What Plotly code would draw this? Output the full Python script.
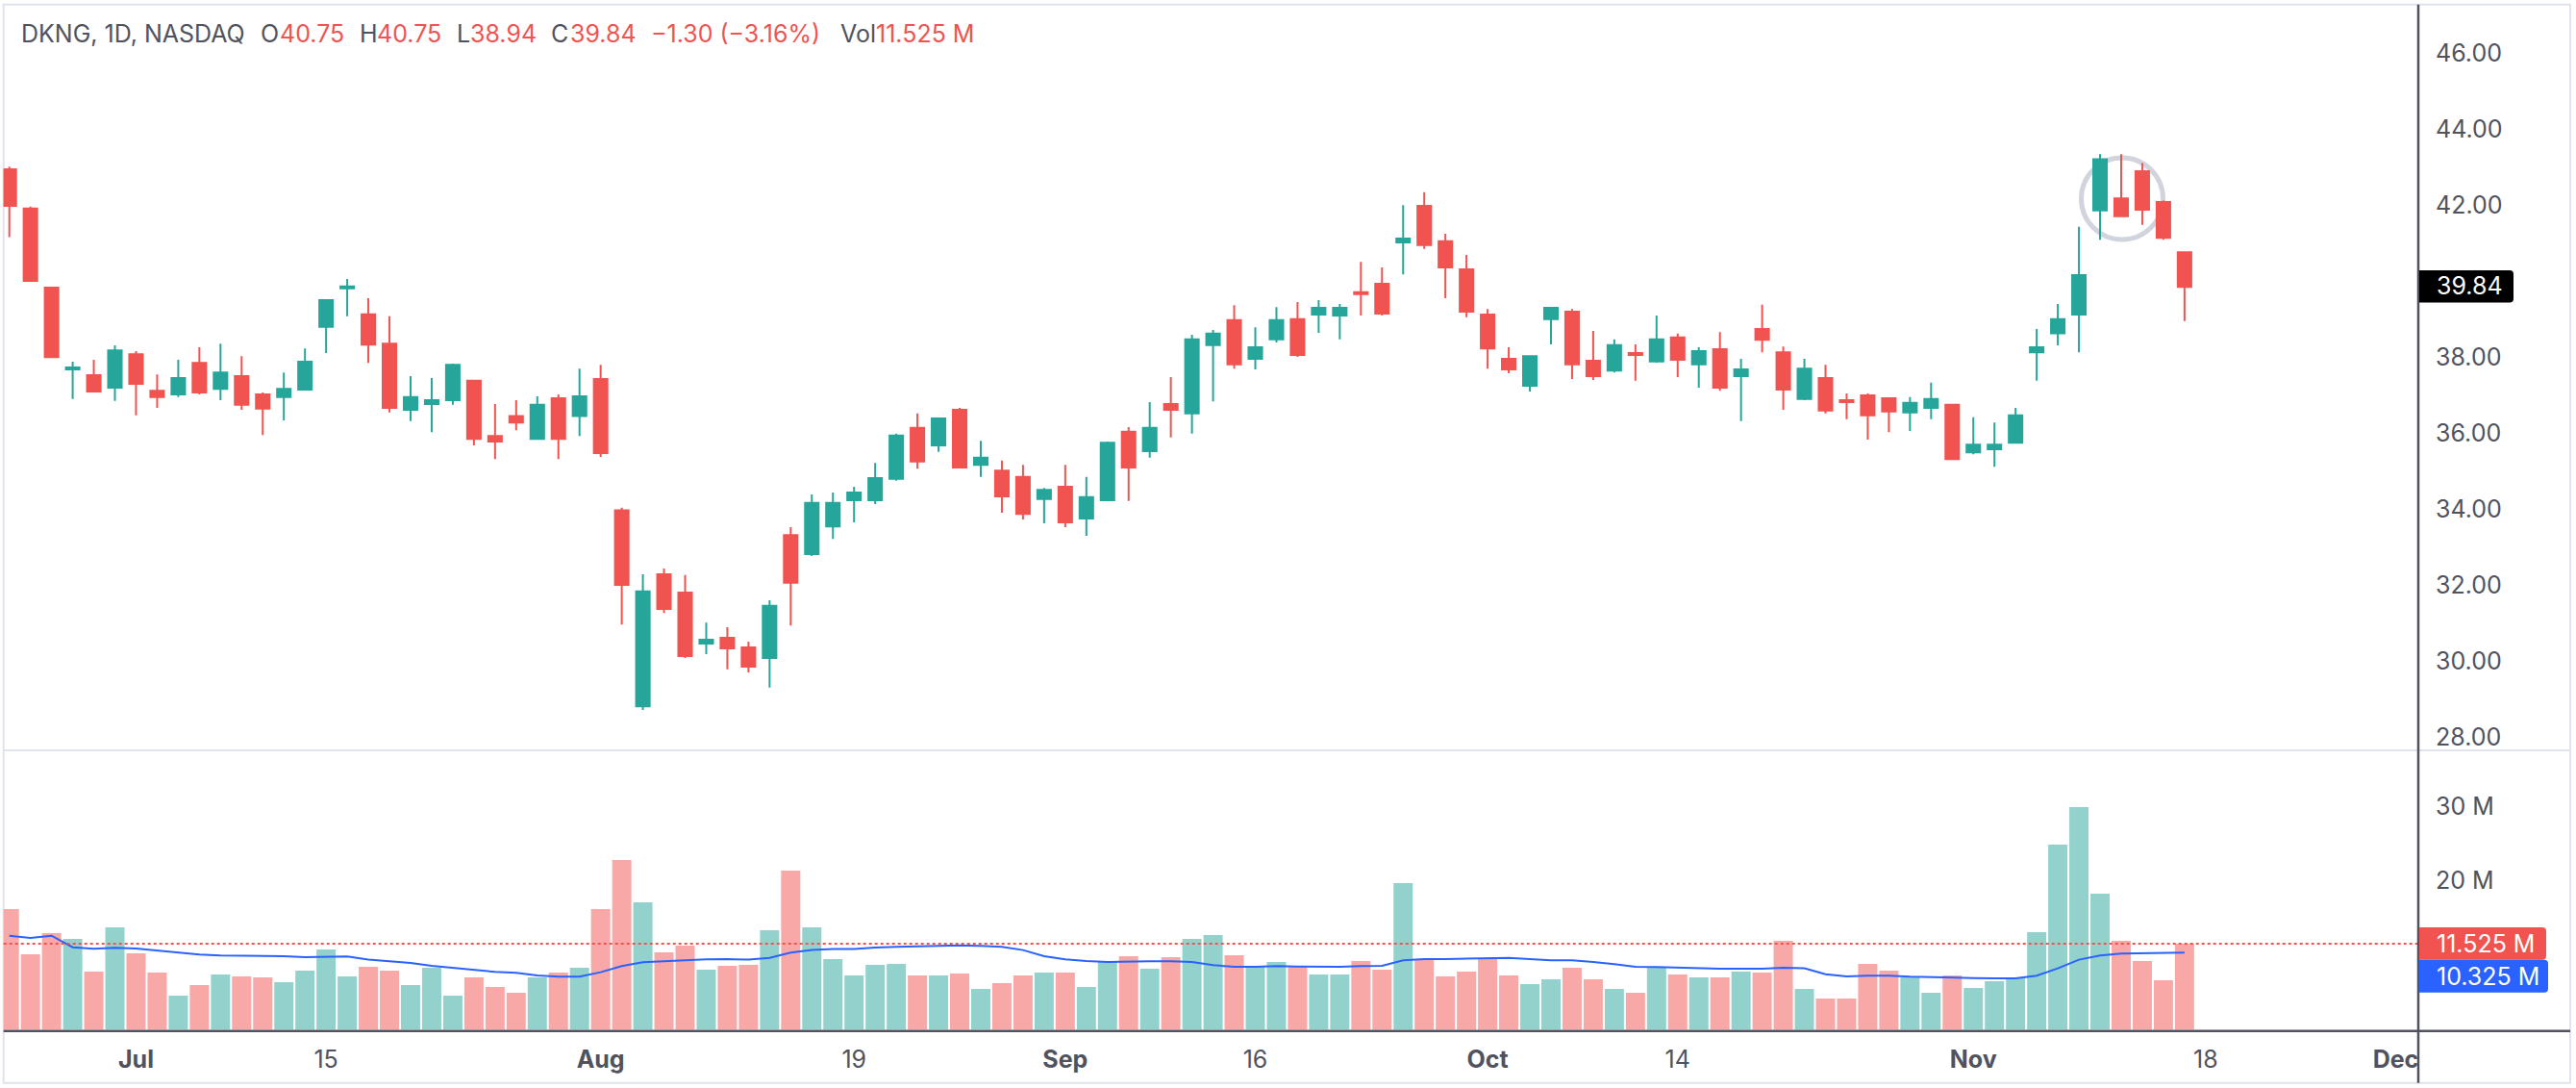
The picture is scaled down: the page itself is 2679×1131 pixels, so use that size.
import plotly.graph_objects as go
import pandas as pd

W = 2679
H = 1131

# trading days, no weekends or market holidays (TradingView squeezes them out)
days = pd.bdate_range("2024-06-21", "2024-12-20")
days = [d.strftime("%Y-%m-%d") for d in days if d.strftime("%Y-%m-%d") not in ("2024-07-04", "2024-09-02", "2024-11-28")]

opens = [42.93, 41.90, 39.82, 37.67, 37.52, 37.19, 38.07, 37.11, 37.01, 37.84, 37.16, 37.49, 37.01, 36.94, 37.14, 38.79,
         39.80, 39.12, 38.35, 36.61, 36.76, 36.86, 37.37, 35.92, 36.44, 35.84, 36.91, 36.44, 37.42, 33.96, 28.81, 32.28,
         31.80, 30.46, 30.61, 30.36, 30.08, 33.31, 32.81, 33.54, 34.23, 34.23, 34.79, 36.13, 35.67, 36.61, 35.16, 35.01,
         34.84, 34.26, 34.58, 33.75, 34.23, 36.03, 35.52, 36.76, 36.51, 38.31, 38.97, 37.95, 38.46, 38.99, 39.11, 39.09,
         39.70, 39.92, 41.01, 41.97, 41.04, 40.30, 39.11, 37.95, 37.24, 38.99, 39.19, 37.90, 37.64, 38.10, 37.88, 38.51,
         37.80, 38.20, 37.49, 38.73, 38.12, 36.89, 37.44, 36.86, 36.99, 36.91, 36.54, 36.66, 36.74, 35.49, 35.57, 35.74,
         38.12, 38.62, 39.11, 41.85, 42.17, 42.88, 42.07, 40.75]
highs = [43.00, 41.95, 39.82, 37.87, 37.92, 38.30, 38.15, 37.54, 37.92, 38.25, 38.35, 38.02, 37.06, 37.59, 38.22, 39.52,
         40.05, 39.54, 39.07, 37.49, 37.44, 37.82, 37.39, 36.76, 36.86, 36.96, 37.01, 37.69, 37.79, 34.03, 32.28, 32.43,
         32.26, 31.01, 30.89, 30.51, 31.60, 33.52, 34.38, 34.43, 34.58, 35.21, 35.98, 36.51, 36.40, 36.66, 35.79, 35.27,
         35.16, 34.55, 35.16, 34.84, 35.77, 36.15, 36.81, 37.47, 38.58, 38.71, 39.36, 38.78, 39.31, 39.44, 39.49, 39.39,
         40.50, 40.35, 41.99, 42.33, 41.24, 40.68, 39.26, 38.25, 38.02, 39.31, 39.26, 38.68, 38.46, 38.33, 39.09, 38.61,
         38.25, 38.65, 37.95, 39.37, 38.27, 37.95, 37.79, 37.04, 37.04, 36.91, 36.94, 37.32, 36.75, 36.41, 36.27, 36.66,
         38.73, 39.39, 41.42, 43.33, 43.33, 43.10, 42.11, 40.75]
lows = [41.15, 40.00, 37.97, 36.89, 37.09, 36.84, 36.46, 36.66, 36.94, 37.01, 36.86, 36.61, 35.94, 36.33, 37.14, 38.10,
        39.07, 37.84, 36.54, 36.31, 36.02, 36.74, 35.67, 35.31, 36.07, 35.84, 35.31, 35.92, 35.37, 30.96, 28.71, 31.26,
        30.08, 30.18, 29.78, 29.70, 29.30, 30.93, 32.76, 33.21, 33.65, 34.13, 34.74, 35.06, 35.50, 35.09, 34.84, 33.90,
        33.72, 33.62, 33.52, 33.29, 34.23, 34.21, 35.35, 35.88, 35.98, 36.83, 37.69, 37.67, 38.38, 38.00, 38.63, 38.46,
        39.09, 39.09, 40.17, 40.84, 39.54, 39.04, 37.69, 37.57, 37.09, 38.33, 37.42, 37.39, 37.59, 37.37, 37.85, 37.47,
        37.19, 37.11, 36.31, 38.12, 36.61, 36.86, 36.51, 36.36, 35.82, 36.02, 36.05, 36.36, 35.31, 35.44, 35.11, 35.72,
        37.37, 38.30, 38.12, 41.08, 41.70, 41.47, 41.08, 38.94]
closes = [41.97, 40.00, 37.99, 37.72, 37.09, 38.17, 37.29, 36.94, 37.44, 37.06, 37.59, 36.74, 36.64, 37.16, 37.87, 39.49,
          39.85, 38.32, 36.66, 36.94, 36.86, 37.79, 35.84, 35.77, 36.27, 36.74, 35.84, 36.96, 35.47, 32.00, 31.83, 31.37,
          30.13, 30.56, 30.33, 29.85, 31.45, 32.06, 34.16, 34.16, 34.43, 34.81, 35.93, 35.25, 36.38, 35.09, 35.35, 34.33,
          33.87, 34.50, 33.65, 34.31, 35.74, 35.09, 36.13, 36.61, 38.46, 38.61, 37.80, 38.25, 38.97, 38.05, 39.29, 39.29,
          39.65, 39.14, 41.11, 40.94, 40.35, 39.19, 38.22, 37.67, 38.02, 39.29, 37.80, 37.49, 38.31, 38.05, 38.46, 37.92,
          38.15, 37.19, 37.67, 38.45, 37.14, 37.69, 36.59, 36.81, 36.46, 36.56, 36.79, 36.89, 35.31, 35.69, 35.69, 36.46,
          38.25, 38.99, 40.15, 43.20, 41.70, 41.87, 41.13, 39.84]
volumes = [16.17, 10.11, 12.95, 12.17, 7.78, 13.72, 10.24, 7.66, 4.56, 5.98, 7.40, 7.14, 7.01, 6.37, 7.91, 10.75,
           7.14, 8.43, 7.91, 5.98, 8.30, 4.56, 7.01, 5.72, 4.95, 7.01, 7.66, 8.30, 16.17, 22.75, 17.08, 10.37,
           11.27, 8.04, 8.56, 8.69, 13.33, 21.33, 13.72, 9.46, 7.27, 8.69, 8.82, 7.27, 7.27, 7.53, 5.46, 6.24,
           7.27, 7.66, 7.66, 5.72, 9.08, 9.85, 8.17, 9.72, 12.17, 12.69, 9.98, 8.43, 9.08, 8.43, 7.40, 7.40,
           9.20, 8.04, 19.66, 9.33, 7.14, 7.78, 9.46, 7.27, 6.11, 6.75, 8.30, 6.75, 5.46, 4.95, 8.43, 7.40,
           7.01, 7.01, 7.78, 7.66, 11.91, 5.46, 4.17, 4.17, 8.82, 7.91, 7.01, 4.95, 7.27, 5.59, 6.49, 6.88,
           13.08, 24.82, 29.85, 18.24, 11.91, 9.20, 6.62, 11.525]
vol_ma = [12.60, 12.30, 12.60, 11.05, 10.84, 10.97, 10.88, 10.62, 10.28, 10.06, 9.94, 9.94, 9.85, 9.85, 9.72, 9.81,
          9.81, 9.38, 9.20, 8.95, 8.56, 8.30, 8.04, 7.74, 7.61, 7.27, 7.10, 7.10, 7.70, 8.52, 9.03, 9.16,
          9.33, 9.42, 9.46, 9.38, 9.63, 10.32, 10.67, 10.80, 10.80, 11.01, 11.10, 11.18, 11.27, 11.31, 11.23, 11.10,
          10.67, 9.85, 9.42, 9.20, 9.08, 9.16, 9.16, 9.16, 9.08, 8.65, 8.43, 8.43, 8.52, 8.47, 8.43, 8.43,
          8.52, 8.56, 9.29, 9.46, 9.46, 9.51, 9.59, 9.63, 9.46, 9.29, 9.29, 9.08, 8.77, 8.43, 8.39, 8.30,
          8.22, 8.17, 8.17, 8.17, 8.30, 8.22, 7.44, 7.14, 7.23, 7.23, 7.10, 7.01, 7.01, 6.92, 6.88, 6.88,
          7.23, 8.22, 9.38, 9.94, 10.19, 10.24, 10.24, 10.325]

# 40.00 sits under the last price tag in the reference, so it is left out
price_ticks = [28, 30, 32, 34, 36, 38, 42, 44, 46]
vol_ticks = [20, 30]
x_ticks = ["2024-07-01", "2024-07-15", "2024-08-01", "2024-08-19", "2024-09-03", "2024-09-16", "2024-10-01", "2024-10-14",
           "2024-11-01", "2024-11-18", "2024-12-02"]
x_labels = ["<b>Jul</b>", "15", "<b>Aug</b>", "19", "<b>Sep</b>", "16", "<b>Oct</b>", "14", "<b>Nov</b>", "18", "<b>Dec</b>"]

UP = "#26A69A"
DOWN = "#F05350"
UP_SOFT = "#93D2CC"
DOWN_SOFT = "#F7A8A7"
BLUE = "#2962FF"
TEXT = "#50535E"
BORDER = "#E0E3EB"
FONT = "Inter"
SIZE = 25

# header pieces: text, colour, left edge in pixels
header = [("DKNG, 1D, NASDAQ", TEXT, 21), ("O", TEXT, 270), ("40.75", DOWN, 290), ("H", TEXT, 373), ("40.75", DOWN, 391),
          ("L", TEXT, 474), ("38.94", DOWN, 488), ("C", TEXT, 572), ("39.84", DOWN, 592),
          ("\u22121.30 (\u22123.16%)", DOWN, 676), ("Vol", TEXT, 873), ("11.525 M", DOWN, 910)]

LEFT = 3.7
AXIS_X = 2515
RIGHT = 2673
TOP = 4.7
DIVIDER = 780
BASE = 1071.7
BOTTOM = 1125.7


def px(v):
    return v / W


def py(v):
    return 1 - v / H


# tag on the right axis, square on the left, rounded on the right
def tag(x0, x1, y0, y1, color, r=4):
    l, r_, t, b = px(x0), px(x1), py(y0), py(y1)
    dx, dy = r / W, r / H
    path = f"M {l} {t} L {r_-dx} {t} Q {r_} {t} {r_} {t-dy} L {r_} {b+dy} Q {r_} {b} {r_-dx} {b} L {l} {b} Z"
    return dict(type="path", xref="paper", yref="paper", path=path, fillcolor=color, line_width=0, layer="above")


fig = go.Figure()
fig.add_trace(go.Bar(x=days[:len(volumes)], y=volumes, yaxis="y2", showlegend=False,
                     marker=dict(color=[UP_SOFT if c >= o else DOWN_SOFT for o, c in zip(opens, closes)], line_width=0)))
fig.add_trace(go.Scatter(x=days[:len(vol_ma)], y=vol_ma, yaxis="y2", mode="lines", showlegend=False,
                         line=dict(color=BLUE, width=2)))
fig.add_trace(go.Candlestick(x=days[:len(opens)], open=opens, high=highs, low=lows, close=closes, showlegend=False,
                             whiskerwidth=0,
                             increasing=dict(line=dict(color=UP, width=2), fillcolor=UP),
                             decreasing=dict(line=dict(color=DOWN, width=2), fillcolor=DOWN)))

shapes = [
    dict(type="circle", xref="paper", yref="paper", x0=px(2164.5), x1=px(2249.5), y0=py(249), y1=py(164),
         line=dict(color="#D1D4DC", width=5), layer="below"),
    dict(type="line", xref="paper", yref="y2", x0=px(LEFT), x1=px(AXIS_X), y0=volumes[-1], y1=volumes[-1],
         line=dict(color=DOWN, width=2, dash="dot"), layer="above"),
    dict(type="rect", xref="paper", yref="paper", x0=px(LEFT), x1=px(RIGHT), y0=py(TOP), y1=py(BOTTOM),
         line=dict(color=BORDER, width=2), layer="below"),
    dict(type="line", xref="paper", yref="paper", x0=px(LEFT), x1=px(RIGHT), y0=py(DIVIDER), y1=py(DIVIDER),
         line=dict(color=BORDER, width=2), layer="below"),
    dict(type="line", xref="paper", yref="paper", x0=px(LEFT), x1=px(RIGHT), y0=py(BASE), y1=py(BASE),
         line=dict(color=TEXT, width=2.5), layer="above"),
    dict(type="line", xref="paper", yref="paper", x0=px(AXIS_X), x1=px(AXIS_X), y0=py(TOP), y1=py(BOTTOM),
         line=dict(color=TEXT, width=2.5), layer="above"),
    tag(AXIS_X + 1, 2614, 281, 314.5, "#000000"),
    tag(AXIS_X + 1, 2648, 964, 997.7, DOWN),
    tag(AXIS_X + 1, 2650, 997.7, 1031.7, BLUE),
]

annotations = [dict(xref="paper", yref="paper", x=px(x0), y=py(35.5), text=t, showarrow=False, xanchor="left", yanchor="middle",
                    font=dict(family=FONT, size=SIZE, color=c), xshift=-1) for t, c, x0 in header]
for txt, yc in [("39.84", 297.5), ("11.525 M", 981), ("10.325 M", 1014.7)]:
    annotations.append(dict(xref="paper", yref="paper", x=px(2532), y=py(yc), text=txt, showarrow=False, xanchor="left",
                            yanchor="middle", font=dict(family=FONT, size=SIZE, color="#FFFFFF")))

fig.update_layout(
    width=W, height=H, margin=dict(l=0, r=0, t=0, b=0),
    paper_bgcolor="white", plot_bgcolor="white",
    bargap=0.09, boxgap=0.36, boxgroupgap=0, showlegend=False,
    font=dict(family=FONT, size=SIZE, color=TEXT),
    shapes=shapes, annotations=annotations,
    xaxis=dict(domain=[px(LEFT), px(AXIS_X)], type="category", categoryorder="array", categoryarray=days,
               range=[-0.273, 114.07], tickmode="array", tickvals=x_ticks, ticktext=x_labels, ticks="", showgrid=False,
               zeroline=False, showline=False, rangeslider=dict(visible=False), anchor="y2", ticklabelstandoff=12),
    yaxis=dict(domain=[py(DIVIDER), py(5)], range=[27.65, 47.26], side="right", anchor="x", tickmode="array",
               tickvals=price_ticks, ticktext=[f"{v:.2f}" for v in price_ticks], showgrid=False, zeroline=False,
               ticks="", ticklabelstandoff=17),
    yaxis2=dict(domain=[py(BASE), py(DIVIDER)], range=[-0.18, 37.46], side="right", anchor="x", tickmode="array",
                tickvals=vol_ticks, ticktext=[f"{v} M" for v in vol_ticks], showgrid=False, zeroline=False,
                ticks="", ticklabelstandoff=17),
)

fig.write_html("out.html", config={"displayModeBar": False}, post_script="document.body.style.margin='0';")
